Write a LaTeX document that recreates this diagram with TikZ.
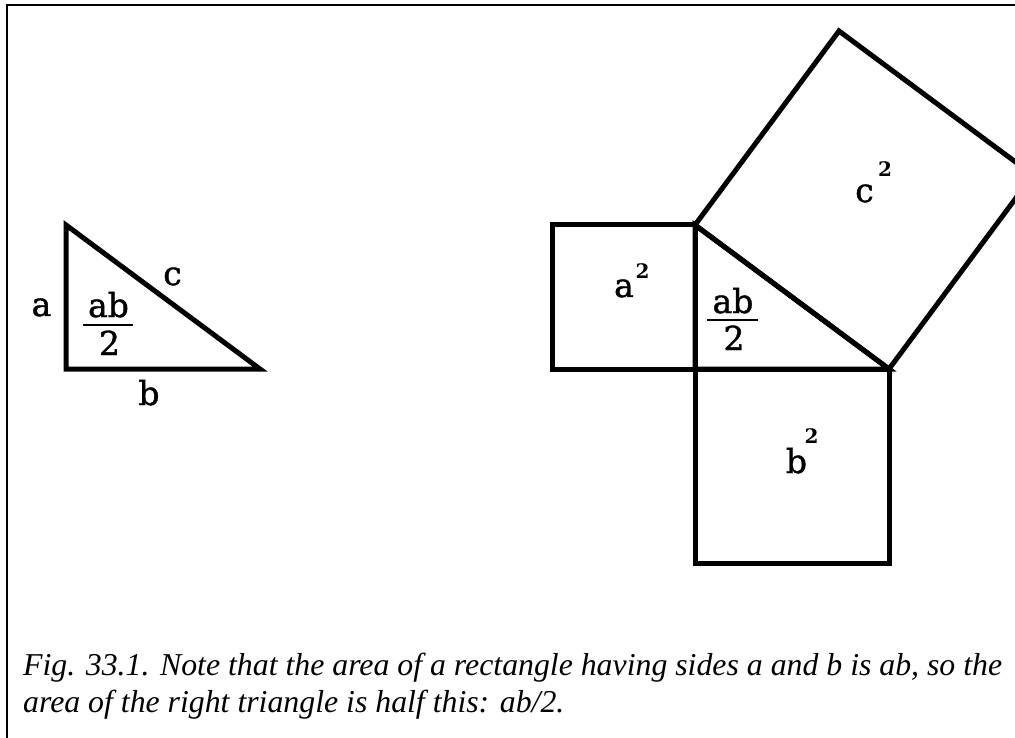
\documentclass[tikz,border=0pt]{standalone}
\usepackage{fontspec}
\setmainfont{Liberation Serif}
\newfontfamily\lblfont[BoldFont={DejaVu Serif}, BoldFeatures={FakeBold=1.2}]{DejaVu Serif}
\newfontfamily\supfont{DejaVu Serif}
\begin{document}
\begin{tikzpicture}[x=1pt,y=-1pt,
  shape line/.style={line width=5pt, line join=miter, miter limit=10},
  lbl/.style={inner sep=0pt, anchor=base, font=\lblfont\bfseries\fontsize{33}{33}\selectfont},
  suplbl/.style={inner sep=0pt, anchor=base, font=\supfont\bfseries\fontsize{20}{20}\selectfont},
  caption/.style={inner sep=0pt, anchor=base west, font=\itshape\fontsize{31.8}{37}\selectfont}]
\useasboundingbox (0,0) rectangle (1015,738);
\clip (0,0) rectangle (1015,738);
% frame
\draw[line width=1.2pt] (7,738) -- (7,5) -- (1015,5);
% left triangle
\coordinate (L1) at (66,225);
\coordinate (L2) at (66,369);
\coordinate (L3) at (260,369);
\draw[shape line] (L1) -- (L2) -- (L3) -- cycle;
% right figure
\coordinate (A) at (695,225);
\coordinate (C) at (695,369);
\coordinate (B) at (889,369);
\coordinate (P1) at (552,225);
\coordinate (P2) at (552,369);
\coordinate (Q1) at (695,563);
\coordinate (Q2) at (889,563);
\coordinate (R1) at (839,31);
\coordinate (R2) at (1033,175);
\draw[shape line] (A) -- (C) -- (B) -- cycle;
\draw[shape line] (P1) -- (A) -- (C) -- (P2) -- cycle;
\draw[shape line] (C) -- (B) -- (Q2) -- (Q1) -- cycle;
\draw[shape line] (A) -- (R1) -- (R2) -- (B) -- cycle;
% left labels
\node[lbl] (la) at (41.5,316) {a};
\node[lbl] (lc) at (172.5,285) {c};
\node[lbl] (lb) at (149,405) {b};
\node[lbl] (lfn) at (108.5,317) {ab};
\node[lbl] (lfd) at (109.5,355) {2};
\coordinate (lbar1) at (83,325);
\coordinate (lbar2) at (133,325);
\draw[line width=2.6pt] (lbar1) -- (lbar2);
% right labels
\node[lbl] (rfn) at (733,313) {ab};
\node[lbl] (rfd) at (734,350) {2};
\coordinate (rbar1) at (707,320);
\coordinate (rbar2) at (758,320);
\draw[line width=2.6pt] (rbar1) -- (rbar2);
\node[lbl] (asq) at (624,297) {a};
\node[suplbl] (asqe) at (642.5,278) {2};
\node[lbl] (bsq) at (796.5,473) {b};
\node[suplbl] (bsqe) at (811.5,443) {2};
\node[lbl] (csq) at (864.5,202) {c};
\node[suplbl] (csqe) at (885,177) {2};
% caption
\node[caption] (cap1) at (23,675) {Fig. 33.1. Note that the area of a rectangle having sides a and b is ab, so the};
\node[caption] (cap2) at (23,712) {area of the right triangle is half this: ab/2.};
\end{tikzpicture}
\end{document}
